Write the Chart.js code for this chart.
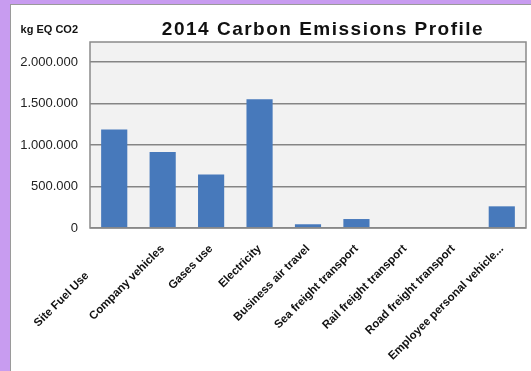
<!DOCTYPE html>
<html>
<head>
<meta charset="utf-8">
<script src="https://cdn.jsdelivr.net/npm/chart.js@4"></script>
<style>
  html, body { margin: 0; padding: 0; }
  body { width: 531px; height: 371px; background: #c89cf0; position: relative; overflow: hidden; }
  #frame {
    position: absolute; left: 10px; top: 4px; right: 0; bottom: 0;
    background: #ffffff; border-left: 1px solid #9a9a9a; border-top: 1px solid #9a9a9a;
  }
  #wrap { position: absolute; left: 0; top: 0; width: 531px; height: 371px; }
</style>
</head>
<body>
<div id="frame"></div>
<div id="wrap"><canvas id="emissionsChart"></canvas></div>
<script>
const categories = [
    'Site Fuel Use            ',
    'Company vehicles',
    'Gases use',
    'Electricity',
    'Business air travel',
    'Sea freight transport',
    'Rail freight transport',
    'Road freight transport',
    'Employee personal vehicle...'
];
const emissions = [1185000, 915000, 643000, 1550000, 45000, 108000, 0, 0, 261000];
const yTicks = [0, 500000, 1000000, 1500000, 2000000];
const chartTitle = '2014 Carbon Emissions Profile';
const unitLabel = 'kg EQ CO2';

const FONT = "'Liberation Sans', Arial, sans-serif";

function dotted(v) {
    return String(v).replace(/\B(?=(\d{3})+(?!\d))/g, '.');
}

// grey plot background, frame and the two header texts
const plotFrame = {
    id: 'plotFrame',
    beforeDraw(chart) {
        const { ctx, chartArea: a } = chart;
        ctx.save();
        ctx.fillStyle = '#f2f2f2';
        ctx.fillRect(a.left, a.top, a.right - a.left, a.bottom - a.top);
        ctx.restore();
    },
    afterDraw(chart) {
        const { ctx, chartArea: a } = chart;
        ctx.save();
        ctx.strokeStyle = '#8a8a8a';
        ctx.lineWidth = 1.5;
        ctx.strokeRect(a.left, a.top, a.right - a.left, a.bottom - a.top);

        ctx.fillStyle = '#111';
        ctx.textBaseline = 'middle';
        ctx.font = 'bold 19px ' + FONT;
        ctx.textAlign = 'center';
        ctx.letterSpacing = '1.5px';
        ctx.fillText(chartTitle, 323, 30);

        ctx.letterSpacing = '0px';
        ctx.font = 'bold 11px ' + FONT;
        ctx.textAlign = 'right';
        ctx.fillText(unitLabel, 78, 30);
        ctx.restore();
    }
};

document.addEventListener('DOMContentLoaded', function() {
    new Chart(document.getElementById('emissionsChart'), {
        type: 'bar',
        data: {
            labels: categories,
            datasets: [{
                data: emissions,
                backgroundColor: '#4779bb',
                borderWidth: 0,
                barPercentage: 0.54,
                categoryPercentage: 1
            }]
        },
        options: {
            responsive: true,
            maintainAspectRatio: false,
            animation: false,
            layout: { padding: { top: 42, right: 5, left: 0, bottom: 0 } },
            scales: {
                y: {
                    min: 0,
                    max: 2240000,
                    afterBuildTicks: s => { s.ticks = yTicks.map(v => ({ value: v })); },
                    afterFit: s => { s.width = 90; },
                    border: { display: false },
                    grid: { color: '#858585', lineWidth: 1.5, drawTicks: false },
                    ticks: {
                        padding: 12,
                        color: '#222',
                        font: { family: FONT, size: 13 },
                        callback: v => dotted(v)
                    }
                },
                x: {
                    afterFit: s => { s.height = 143; },
                    border: { display: false },
                    grid: { display: false },
                    ticks: {
                        autoSkip: false,
                        minRotation: 45,
                        maxRotation: 45,
                        padding: 6,
                        color: '#111',
                        font: { family: FONT, size: 11.5, weight: 'bold' }
                    }
                }
            },
            plugins: {
                legend: { display: false },
                tooltip: { enabled: false }
            }
        },
        plugins: [plotFrame]
    });
});
</script>
</body>
</html>
